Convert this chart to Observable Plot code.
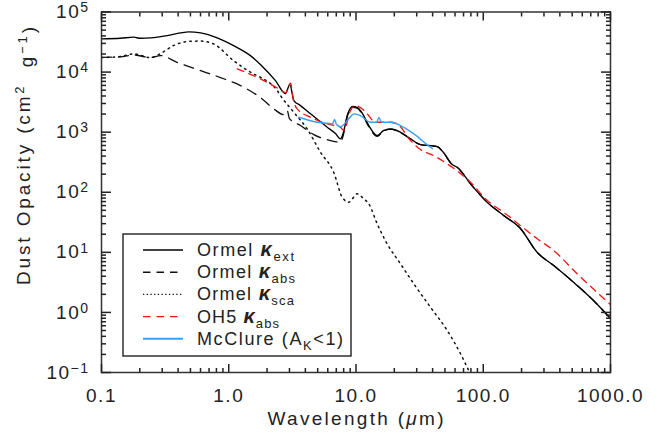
<!DOCTYPE html>
<html>
<head>
<meta charset="utf-8">
<script src="https://cdn.jsdelivr.net/npm/d3@7"></script>
<script src="https://cdn.jsdelivr.net/npm/@observablehq/plot@0.6"></script>
<style>
html,body{margin:0;padding:0;background:#fff;}
#chart svg{display:block;}
</style>
</head>
<body>
<div id="chart"></div>
<script>
// ---- data (wavelength in micron, opacity in cm^2 g^-1) ----
const extWave  = [0.1, 0.141, 0.179, 0.2025, 0.243, 0.328, 0.418, 0.485, 0.60, 0.811, 1.09, 1.48, 1.78, 2.33, 2.79, 3.02, 3.25, 3.66, 4.39, 5.94, 6.90, 7.55, 7.83, 8.62, 9.39, 10.27, 11.25, 12.61, 14.68, 16.45, 18.67, 22.37, 26.82, 32.13, 43.46, 48.7, 57.0, 62.4, 79.4, 107.4, 145, 196, 265, 358, 512, 735, 1000];
const extKappa = [35700, 36500, 38200, 36500, 37100, 40500, 44900, 46700, 44900, 37100, 27600, 18800, 13300, 7220, 4390, 6190, 3360, 2770, 2020, 1210, 948, 774, 878, 2020, 2670, 2570, 2040, 1290, 878, 1060, 1130, 996, 774, 622, 576, 458, 289, 261, 138, 68.2, 40.9, 24.9, 10.0, 6.03, 3.18, 1.58, 0.79];

const absWave  = [0.1, 0.141, 0.179, 0.243, 0.291, 0.396, 0.60, 0.861, 1.237, 1.776, 2.247, 2.693, 2.88, 3.0, 3.664, 4.66, 6.304, 7.55, 7.83, 8.62, 9.39, 10.27, 11.25, 12.61, 14.68, 16.45, 18.67, 22.37, 26.82, 32.13, 43.46, 48.7, 57.0, 62.4, 79.4, 107.4, 145, 196, 265, 358, 512, 735, 1000];
const absKappa = [17630, 17900, 19300, 17430, 18820, 14390, 10590, 8100, 5960, 3760, 2470, 1960, 2290, 1680, 1290, 912, 725, 679, 796, 1950, 2590, 2480, 1960, 1226, 848, 1046, 1124, 990, 770, 620, 575, 457, 289, 261, 138, 68.2, 40.9, 24.9, 10.0, 6.03, 3.18, 1.58, 0.79];

const scaWave  = [0.1, 0.141, 0.178, 0.243, 0.291, 0.368, 0.50, 0.60, 0.759, 1.09, 1.565, 1.776, 2.403, 2.551, 3.245, 4.136, 5.26, 6.693, 7.79, 8.78, 10.22, 11.52, 12.61, 14.68, 17.59, 22.37, 28.47, 38.5, 52.1, 66.3, 77.0, 95.1];
const scaKappa = [17430, 18110, 20090, 17430, 20310, 27600, 32550, 32800, 29450, 15540, 9330, 8190, 4920, 4060, 2140, 1130, 463, 213, 82.6, 68.2, 94.1, 77.6, 64.1, 29.8, 13.8, 6.44, 2.99, 1.22, 0.50, 0.205, 0.108, 0.05];

const oh5Wave  = [1.165, 1.776, 2.475, 2.793, 3.057, 3.228, 3.451, 4.39, 5.939, 7.553, 8.02, 9.053, 9.91, 10.85, 12.25, 14.23, 18.67, 21.08, 26.82, 32.13, 40.65, 52.1, 79.39, 107.4, 144.2, 196.2, 265.5, 358.4, 547.4, 1000];
const oh5Kappa = [11300, 7709, 5254, 4560, 6513, 3357, 2442, 1770, 1374, 1206, 1063, 2287, 2771, 2566, 2016, 1461, 1461, 1374, 725, 513, 408, 297, 147, 72.8, 46.5, 27.9, 16.8, 10.7, 4.39, 1.35];

const mccWave  = [3.552, 4.956, 5.939, 6.536, 6.777, 7.027, 7.553, 8.778, 9.609, 10.85, 13.0, 14.49, 15.16, 15.86, 18.67, 22.37, 28.47, 38.5, 39.9];
const mccKappa = [1770, 1461, 1406, 1374, 1621, 1338, 1239, 1665, 2016, 1889, 1461, 1461, 1750, 1461, 1461, 1288, 937, 561, 533];

// ---- ticks ----
const xMajor = [0.1, 1, 10, 100, 1000];
const xMajorLabels = ["0.1", "1.0", "10.0", "100.0", "1000.0"];
const yMajor = [0.1, 1, 10, 100, 1000, 10000, 100000];
const yExponents = ["\u22121", "0", "1", "2", "3", "4", "5"];
const minorMultipliers = [2, 3, 4, 5, 6, 7, 8, 9];
const xMinor = xMajor.slice(0, -1).flatMap(d => minorMultipliers.map(m => d * m));
const yMinor = yMajor.slice(0, -1).flatMap(d => minorMultipliers.map(m => d * m));

// ---- legend ----
const legendNames = ["Ormel ", "Ormel ", "Ormel ", "OH5 "];
const legendSubs = ["ext", "abs", "sca", "abs"];

const toRows = (w, k) => w.map((v, i) => ({w: v, k: k[i]}));

const series = [
  {data: toRows(scaWave, scaKappa), stroke: "#111", width: 1.5, dash: "1.5 4.3", legendDash: "1.3 2.4"},
  {data: toRows(absWave, absKappa), stroke: "#111", width: 1.3, dash: "10 7", legendDash: "7.5 6"},
  {data: toRows(extWave, extKappa), stroke: "#000", width: 1.4, dash: null, legendDash: null},
  {data: toRows(oh5Wave, oh5Kappa), stroke: "#f01414", width: 1.3, dash: "7 5.5", legendDash: "7.5 6"},
  {data: toRows(mccWave, mccKappa), stroke: "#3a9ff2", width: 1.4, dash: null, legendDash: null}
];

const tk = {stroke: "#222", strokeWidth: 1.5, fill: "none", label: null};
const fontFamily = "'Liberation Sans', Arial, Helvetica, sans-serif";

const chart = Plot.plot({
  width: 658,
  height: 434,
  marginLeft: 101,
  marginRight: 48,
  marginTop: 11.5,
  marginBottom: 62,
  x: {type: "log", domain: [0.1, 1000], label: null},
  y: {type: "log", domain: [0.1, 1e5], label: null},
  style: {fontFamily, background: "#fff"},
  marks: [
    ...series.map(s => Plot.line(s.data, {
      x: "w", y: "k", stroke: s.stroke, strokeWidth: s.width,
      strokeDasharray: s.dash, curve: "monotone-x", clip: true
    })),
    Plot.frame({stroke: "#333", strokeWidth: 1.5}),
    Plot.axisX(xMajor, {...tk, anchor: "bottom", tickSize: -8}),
    Plot.axisX(xMinor, {...tk, anchor: "bottom", tickSize: -4}),
    Plot.axisX(xMajor, {...tk, anchor: "top", tickSize: -8}),
    Plot.axisX(xMinor, {...tk, anchor: "top", tickSize: -4}),
    Plot.axisY(yMajor, {...tk, anchor: "left", tickSize: -10}),
    Plot.axisY(yMinor, {...tk, anchor: "left", tickSize: -5}),
    Plot.axisY(yMajor, {...tk, anchor: "right", tickSize: -10}),
    Plot.axisY(yMinor, {...tk, anchor: "right", tickSize: -5}),
    Plot.axisX(xMajor, {anchor: "bottom", tickSize: 0, tickPadding: 16, fontSize: 19, fill: "#222", label: null,
      tickFormat: d => xMajorLabels[xMajor.indexOf(d)]}),
    Plot.axisY(yMajor, {anchor: "left", tickSize: 0, tickPadding: 12, fontSize: 19, fill: "#222", label: null,
      tickFormat: d => "10^" + yExponents[yMajor.indexOf(d)]})
  ]
});

document.getElementById("chart").appendChild(chart);

const svg = d3.select(chart);

// tick label styling
svg.selectAll('g[aria-label="x-axis tick label"]').style("letter-spacing", "1.5px");
svg.selectAll('g[aria-label="y-axis tick label"]').style("letter-spacing", "1.5px");
svg.selectAll('g[aria-label="y-axis tick label"] text').each(function () {
  const t = d3.select(this);
  const parts = t.text().split("^");
  t.text(null);
  t.append("tspan").text(parts[0]);
  t.append("tspan").attr("dy", "-0.42em").attr("font-size", "14px").text(parts[1]);
});

// axis titles
const xt = svg.append("text")
  .attr("x", 355.5).attr("y", 425).attr("text-anchor", "middle")
  .attr("font-family", fontFamily).attr("font-size", 19).attr("fill", "#222")
  .attr("textLength", 176).attr("lengthAdjust", "spacing");
xt.append("tspan").text("Wavelength (");
xt.append("tspan").attr("font-style", "italic").text("\u03bc");
xt.append("tspan").text("m)");

const yt = svg.append("text")
  .attr("transform", "translate(30,156) rotate(-90)").attr("text-anchor", "middle")
  .attr("font-family", fontFamily).attr("font-size", 19).attr("fill", "#222")
  .attr("textLength", 258).attr("lengthAdjust", "spacing");
yt.append("tspan").text("Dust Opacity (cm");
yt.append("tspan").attr("dy", "-0.45em").attr("font-size", 13).text("2");
yt.append("tspan").attr("dy", "0.45em").text("\u00a0\u00a0g");
yt.append("tspan").attr("dy", "-0.45em").attr("font-size", 13).text("\u22121");
yt.append("tspan").attr("dy", "0.45em").text(")");

// legend
const lg = svg.append("g").attr("font-family", fontFamily).attr("fill", "#222").attr("text-anchor", "start");
lg.append("rect").attr("x", 123).attr("y", 234).attr("width", 228).attr("height", 122)
  .attr("fill", "#fff").attr("stroke", "#222").attr("stroke-width", 1.4);
const rowY = [250, 272.2, 294.4, 316.6, 338.8];
const legendOrder = [2, 1, 0, 3, 4];
const rowWidths = [97, 98, 97, 82, 146];
legendOrder.forEach((si, r) => {
  const s = series[si];
  const y = rowY[r];
  lg.append("line").attr("x1", 143).attr("x2", 183).attr("y1", y).attr("y2", y)
    .attr("stroke", s.stroke).attr("stroke-width", si === 4 ? 2 : 1.4)
    .attr("stroke-dasharray", s.legendDash);
  const t = lg.append("text").attr("x", 197).attr("y", y + 6).attr("font-size", 18)
    .attr("text-anchor", "start")
    .attr("textLength", rowWidths[r]).attr("lengthAdjust", "spacing");
  if (r < 4) {
    t.append("tspan").text(legendNames[r]);
    t.append("tspan").attr("font-style", "italic").attr("font-weight", "bold").attr("font-size", 20).text("\u03ba");
    t.append("tspan").attr("dy", 5).attr("font-size", 13).text(legendSubs[r]);
  } else {
    t.append("tspan").text("McClure (A");
    t.append("tspan").attr("dy", 5).attr("font-size", 13).text("K");
    t.append("tspan").attr("dy", -5).text("<1)");
  }
});
</script>
</body>
</html>
